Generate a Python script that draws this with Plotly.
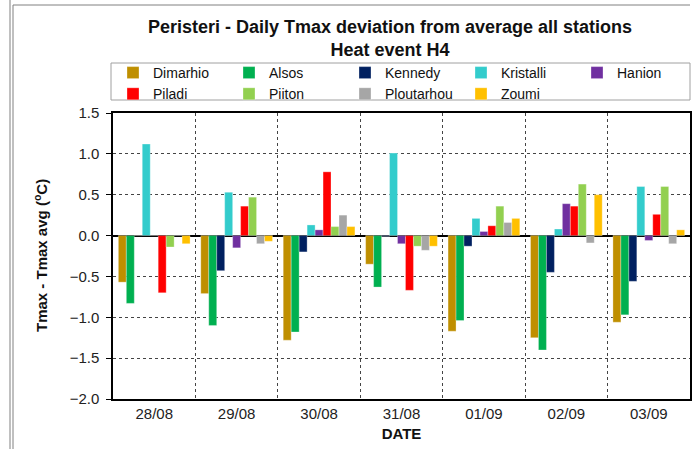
import plotly.graph_objects as go

fechas = ["28/08", "29/08", "30/08", "31/08", "01/09", "02/09", "03/09"]

dimarhio = [-0.57, -0.71, -1.28, -0.35, -1.17, -1.25, -1.06]
alsos = [-0.83, -1.10, -1.18, -0.63, -1.04, -1.40, -0.97]
kennedy = [0.0, -0.43, -0.20, -0.01, -0.13, -0.45, -0.56]
kristalli = [1.12, 0.53, 0.13, 1.01, 0.21, 0.08, 0.60]
hanion = [0.0, -0.15, 0.07, -0.10, 0.05, 0.39, -0.06]
piladi = [-0.70, 0.36, 0.78, -0.67, 0.12, 0.36, 0.26]
piiton = [-0.14, 0.47, 0.11, -0.13, 0.36, 0.63, 0.60]
ploutarhou = [0.0, -0.10, 0.25, -0.18, 0.16, -0.09, -0.10]
zoumi = [-0.10, -0.07, 0.11, -0.13, 0.21, 0.50, 0.07]

estaciones = [
    ("Dimarhio", dimarhio, "#BF8F00"),
    ("Alsos", alsos, "#00B050"),
    ("Kennedy", kennedy, "#002060"),
    ("Kristalli", kristalli, "#33CCCC"),
    ("Hanion", hanion, "#7030A0"),
    ("Piladi", piladi, "#FF0000"),
    ("Piiton", piiton, "#92D050"),
    ("Ploutarhou", ploutarhou, "#A6A6A6"),
    ("Zoumi", zoumi, "#FFC000"),
]

fuente = "Liberation Sans, Arial, sans-serif"

# area de la grafica en pixeles (para pasar a coordenadas paper)
L, R, T, B = 113, 690, 113, 399
W, H = 694, 449


def px_x(x):
    return (x - L) / (R - L)


def px_y(y):
    return (B - y) / (B - T)


fig = go.Figure()

for nombre, valores, color in estaciones:
    fig.add_trace(go.Bar(
        x=fechas,
        y=valores,
        name=nombre,
        marker=dict(color=color, line=dict(color="rgba(255,255,255,0.6)", width=0.5)),
    ))

fig.update_layout(
    width=W, height=H,
    barmode="group",
    bargap=0.13,
    bargroupgap=0,
    plot_bgcolor="white",
    paper_bgcolor="white",
    font=dict(family=fuente, size=15, color="#222222"),
    margin=dict(l=L, r=W - R, t=T, b=H - B),
    title=dict(
        text="<b>Peristeri - Daily Tmax deviation from average all stations<br>Heat event H4</b>",
        x=390 / W, xanchor="center",
        y=1 - 33 / H, yanchor="middle",
        font=dict(size=18, color="#111111", family=fuente),
    ),
    legend=dict(
        orientation="h",
        x=0, xanchor="left",
        y=px_y(57), yanchor="top",
        entrywidth=71,
        bgcolor="rgba(0,0,0,0)",
        borderwidth=0,
        font=dict(size=14, color="#111111"),
        traceorder="normal",
        tracegroupgap=0,
    ),
    showlegend=True,
)

fig.update_xaxes(
    type="category",
    tickson="boundaries",
    ticks="outside", ticklen=10, tickcolor="rgba(0,0,0,0)",
    showgrid=True,
    gridcolor="#444444",
    griddash="dot",
    gridwidth=1,
    showline=True, mirror=True, linecolor="black", linewidth=1.5,
    tickfont=dict(size=15, color="#222222"),
    title=dict(text="<b>DATE</b>", font=dict(size=15, color="#111111"), standoff=8),
    automargin=False,
)

fig.update_yaxes(
    range=[-2.0, 1.5],
    dtick=0.5,
    tickformat=".1f",
    ticks="outside", ticklen=5, tickcolor="black",
    ticklabelstandoff=4,
    showgrid=True,
    gridcolor="#444444",
    griddash="dot",
    gridwidth=1,
    zeroline=True, zerolinecolor="black", zerolinewidth=2,
    showline=True, mirror=True, linecolor="black", linewidth=1.5,
    tickfont=dict(size=15, color="#222222"),
    automargin=False,
)

# titulo eje y
fig.add_annotation(
    text="<b>Tmax - Tmax avg (<sup>o</sup>C)</b>",
    xref="paper", yref="paper",
    x=px_x(40), y=px_y(256),
    xanchor="center", yanchor="middle",
    textangle=-90, showarrow=False,
    font=dict(size=15, color="#111111"),
)

# recuadro de la leyenda
fig.add_shape(type="rect", xref="paper", yref="paper",
              x0=px_x(111), x1=px_x(690), y0=px_y(63), y1=px_y(100),
              line=dict(color="#A0A0A0", width=1))

# marco exterior
for x0 in (10, 13):
    fig.add_shape(type="line", xref="paper", yref="paper",
                  x0=px_x(x0), x1=px_x(x0), y0=px_y(0 if x0 == 10 else 5), y1=px_y(H),
                  line=dict(color="#808080", width=1))
fig.add_shape(type="line", xref="paper", yref="paper",
              x0=px_x(13), x1=px_x(690), y0=px_y(5), y1=px_y(5),
              line=dict(color="#808080", width=1))

# quitar el margen del body para que la figura quede en (0, 0)
fig.write_html("out.html", config={"displayModeBar": False},
               post_script="document.body.style.margin='0';")
